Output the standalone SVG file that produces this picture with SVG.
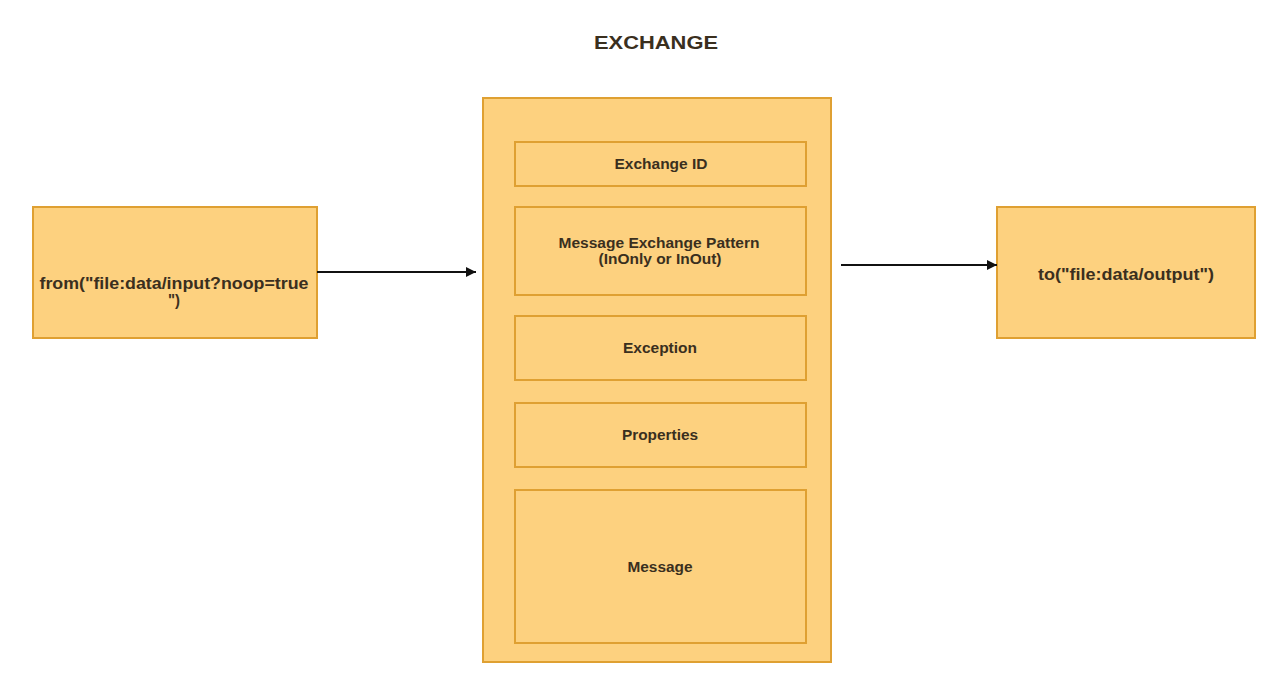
<svg xmlns="http://www.w3.org/2000/svg" width="1280" height="682" viewBox="0 0 1280 682">
<defs>
<style>
.box{fill:#fdd17f;stroke:#dfa032;stroke-width:2}
.t{font-family:"Liberation Sans",Arial,sans-serif;font-weight:bold;fill:#3a2f1e;text-anchor:middle}
.s{font-size:14px}
.m{font-size:16px}
.edge{stroke:#111;stroke-width:2;fill:none}
</style>
<marker id="arr" viewBox="0 0 10 10" refX="10" refY="5" markerWidth="5" markerHeight="5" orient="auto" markerUnits="strokeWidth">
<path d="M0,0 L10,5 L0,10 Z" fill="#111"/>
</marker>
</defs>
<rect width="1280" height="682" fill="#ffffff"/>
<text class="t" x="656" y="49" font-size="18" textLength="124" lengthAdjust="spacingAndGlyphs">EXCHANGE</text>
<g id="from">
<rect class="box" x="33" y="207" width="284" height="131"/>
<text class="t m" x="174" y="289" textLength="269" lengthAdjust="spacingAndGlyphs">from("file:data/input?noop=true</text>
<text class="t m" x="174" y="306" textLength="12" lengthAdjust="spacingAndGlyphs">")</text>
</g>
<g id="exchange">
<rect class="box" x="483" y="98" width="348" height="564"/>
</g>
<g id="exchange-id">
<rect class="box" x="515" y="142" width="291" height="44"/>
<text class="t s" x="661" y="169" textLength="93" lengthAdjust="spacingAndGlyphs">Exchange ID</text>
</g>
<g id="mep">
<rect class="box" x="515" y="207" width="291" height="88"/>
<text class="t s" x="659" y="248" textLength="201" lengthAdjust="spacingAndGlyphs">Message Exchange Pattern</text>
<text class="t s" x="660" y="264" textLength="123" lengthAdjust="spacingAndGlyphs">(InOnly or InOut)</text>
</g>
<g id="exception">
<rect class="box" x="515" y="316" width="291" height="64"/>
<text class="t s" x="660" y="353" textLength="74" lengthAdjust="spacingAndGlyphs">Exception</text>
</g>
<g id="properties">
<rect class="box" x="515" y="403" width="291" height="64"/>
<text class="t s" x="660" y="440" textLength="76" lengthAdjust="spacingAndGlyphs">Properties</text>
</g>
<g id="message">
<rect class="box" x="515" y="490" width="291" height="153"/>
<text class="t s" x="660" y="572" textLength="65" lengthAdjust="spacingAndGlyphs">Message</text>
</g>
<g id="to">
<rect class="box" x="997" y="207" width="258" height="131"/>
<text class="t m" x="1126" y="280" textLength="176" lengthAdjust="spacingAndGlyphs">to("file:data/output")</text>
</g>
<g id="connectors">
<line class="edge" x1="317" y1="272" x2="476" y2="272" marker-end="url(#arr)"/>
<line class="edge" x1="841" y1="265" x2="997" y2="265" marker-end="url(#arr)"/>
</g>
</svg>
